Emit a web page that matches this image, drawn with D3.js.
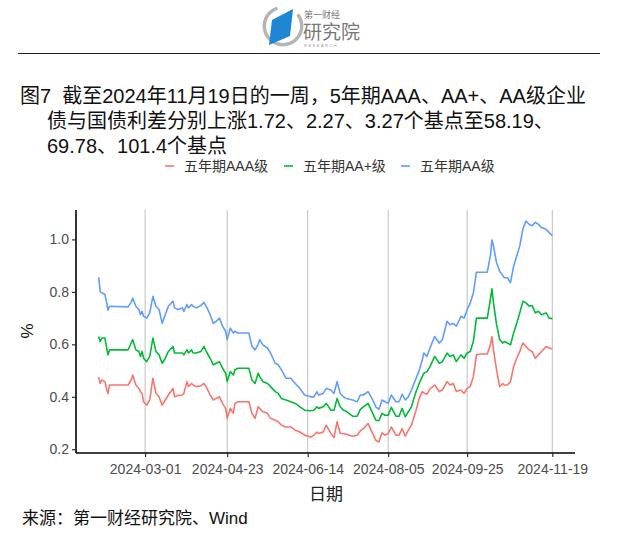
<!DOCTYPE html>
<html>
<head>
<meta charset="utf-8">
<script src="https://cdn.jsdelivr.net/npm/d3@7"></script>
<style>
  body { margin: 0; background: #fff; }
  svg { display: block; font-family: "Liberation Sans", Arial, "Noto Sans CJK SC", sans-serif; }
</style>
</head>
<body>
<div id="chart"></div>
<script>
// trading days (roughly every 2-3 days)
const dates = [
  "2024-01-31","2024-02-01","2024-02-02","2024-02-04","2024-02-05","2024-02-06","2024-02-07","2024-02-19",
  "2024-02-21","2024-02-22","2024-02-24","2024-02-26","2024-02-27","2024-02-28","2024-02-29","2024-03-02",
  "2024-03-04","2024-03-06","2024-03-08","2024-03-10","2024-03-12","2024-03-14","2024-03-16","2024-03-19",
  "2024-03-20","2024-03-22","2024-03-25","2024-03-26","2024-03-28","2024-03-29","2024-03-31","2024-04-01",
  "2024-04-03","2024-04-06","2024-04-08","2024-04-10","2024-04-12","2024-04-14","2024-04-16","2024-04-18",
  "2024-04-20","2024-04-22","2024-04-23","2024-04-25","2024-04-27","2024-04-28","2024-04-30","2024-05-04",
  "2024-05-07","2024-05-09","2024-05-11","2024-05-13","2024-05-14","2024-05-16","2024-05-19","2024-05-21",
  "2024-05-24","2024-05-26","2024-05-28","2024-05-31","2024-06-03","2024-06-06","2024-06-09","2024-06-12",
  "2024-06-16","2024-06-18","2024-06-20","2024-06-21","2024-06-24","2024-06-26","2024-06-29","2024-07-01",
  "2024-07-03","2024-07-05","2024-07-07","2024-07-09","2024-07-13","2024-07-16","2024-07-18","2024-07-20",
  "2024-07-23","2024-07-26","2024-07-28","2024-07-30","2024-08-01","2024-08-03","2024-08-05","2024-08-07",
  "2024-08-10","2024-08-12","2024-08-14","2024-08-16","2024-08-18","2024-08-20","2024-08-23","2024-08-25",
  "2024-08-27","2024-08-28","2024-08-30","2024-09-01","2024-09-04","2024-09-07","2024-09-09","2024-09-12",
  "2024-09-14","2024-09-16","2024-09-18","2024-09-21","2024-09-23","2024-09-25","2024-09-27","2024-09-29",
  "2024-10-01","2024-10-04","2024-10-08","2024-10-10","2024-10-11","2024-10-12","2024-10-14","2024-10-16",
  "2024-10-18","2024-10-19","2024-10-21","2024-10-23","2024-10-25","2024-10-27","2024-10-29","2024-10-31",
  "2024-11-02","2024-11-04","2024-11-06","2024-11-08","2024-11-10","2024-11-12","2024-11-15","2024-11-17",
  "2024-11-19"
];

const aaa = [
  .475,.451,.464,.458,.432,.413,.445,.445, .464,.483,.445,.432,.42,.413,.381,.368,
  .388,.471,.413,.40,.368,.388,.407,.432, .40,.405,.407,.413,.458,.439,.451,.445,
  .439,.442,.451,.432,.407,.388,.394,.40, .375,.356,.318,.356,.337,.375,.381,.381,
  .381,.337,.318,.362,.356,.343,.337,.318, .311,.305,.292,.285,.285,.273,.266,.254,
  .247,.254,.266,.26,.266,.292,.26,.245, .305,.26,.26,.257,.25,.254,.27,.279,
  .298,.26,.234,.228,.263,.254,.26,.285, .254,.254,.279,.25,.273,.292,.349,.394,
  .42,.415,.41,.43,.445,.42,.426,.458, .445,.451,.42,.426,.413,.432,.439,.477,
  .56,.563,.563,.598,.63,.579,.503,.439, .451,.445,.445,.458,.515,.547,.573,.605,
  .592,.579,.573,.547,.56,.573,.592,.586, .582
];

const aaPlus = [
  .63,.611,.624,.624,.592,.56,.579,.579, .605,.618,.579,.573,.554,.573,.547,.534,
  .554,.624,.573,.56,.528,.547,.573,.592, .567,.567,.567,.56,.579,.567,.579,.567,
  .567,.573,.592,.567,.547,.522,.528,.534, .509,.49,.458,.496,.483,.503,.509,.509,
  .509,.464,.451,.49,.477,.458,.451,.439, .42,.413,.394,.388,.381,.375,.362,.349,
  .347,.349,.362,.356,.362,.375,.349,.349, .394,.362,.349,.345,.326,.326,.352,.362,
  .375,.337,.311,.309,.337,.33,.33,.36, .326,.326,.356,.324,.343,.362,.42,.451,
  .477,.49,.496,.515,.554,.528,.534,.567, .554,.56,.534,.56,.547,.567,.573,.611,
  .70,.70,.70,.771,.812,.758,.675,.618, .605,.611,.605,.598,.643,.68,.72,.764,
  .758,.745,.748,.72,.726,.713,.72,.70, .698
];

const aa = [
  .855,.80,.797,.79,.764,.73,.745,.743, .76,.777,.745,.733,.713,.726,.707,.70,
  .72,.783,.745,.733,.68,.713,.745,.764, .739,.733,.739,.726,.752,.739,.752,.745,
  .739,.748,.76,.739,.713,.68,.688,.70, .669,.65,.618,.662,.643,.65,.643,.643,
  .643,.592,.579,.60,.618,.598,.586,.567, .528,.522,.503,.471,.471,.451,.432,.407,
  .40,.40,.42,.407,.413,.432,.426,.413, .458,.413,.40,.394,.388,.381,.407,.407,
  .42,.388,.362,.352,.388,.381,.375,.407, .381,.381,.41,.388,.40,.426,.471,.50,
  .54,.567,.554,.586,.63,.605,.618,.688, .675,.68,.669,.707,.70,.733,.758,.796,
  .875,.875,.875,.937,.998,.975,.911,.879, .863,.854,.854,.835,.898,.937,.975,1.04,
  1.07,1.058,1.052,1.065,1.058,1.045,1.039,1.026, 1.014
];

const seriesNames = ["五年期AAA级", "五年期AA+级", "五年期AA级"];
const seriesColors = ["#F8766D", "#00BA38", "#619CFF"];
const xTicks = ["2024-03-01", "2024-04-23", "2024-06-14", "2024-08-05", "2024-09-25", "2024-11-19"];
const yTicks = [0.2, 0.4, 0.6, 0.8, 1.0];

const titleLines = [
  "图7  截至2024年11月19日的一周，5年期AAA、AA+、AA级企业",
  "债与国债利差分别上涨1.72、2.27、3.27个基点至58.19、",
  "69.78、101.4个基点"
];

const W = 640, H = 540;
const plot = {left: 76, right: 575, top: 210, bottom: 453};
const parse = d3.timeParse("%Y-%m-%d");

const svg = d3.select("#chart").append("svg")
  .attr("width", W).attr("height", H);

svg.append("rect").attr("width", W).attr("height", H).attr("fill", "#fff");

// ---- logo / header
const logo = svg.append("g").attr("transform", "translate(283,26)");
logo.append("path")
  .attr("d", d3.arc()({innerRadius: 17, outerRadius: 20.5, startAngle: 0.9, endAngle: 2 * Math.PI - 0.3}))
  .attr("fill", "#b5b5b5");
logo.append("path")
  .attr("d", "M-11,-6 L10,-17 L7,10 L-14,19 Z")
  .attr("fill", "#1f86d4");
svg.append("text").attr("x", 304).attr("y", 18)
  .style("font-size", "9px").style("fill", "#777").text("第一财经");
svg.append("text").attr("x", 303).attr("y", 39)
  .style("font-size", "19px").style("fill", "#777").text("研究院");
svg.append("text").attr("x", 304).attr("y", 47)
  .style("font-size", "4px").style("fill", "#999").style("letter-spacing", "1.5px").text("RESEARCH");
svg.append("line")
  .attr("x1", 18).attr("x2", 600).attr("y1", 53.5).attr("y2", 53.5)
  .attr("stroke", "#222").attr("stroke-width", 1.2);

// ---- title
svg.append("g").selectAll("text")
  .data(titleLines).enter().append("text")
  .attr("x", (d, i) => i === 0 ? 20 : 47)
  .attr("y", (d, i) => 103 + i * 25)
  .style("font-size", "20px")
  .style("white-space", "pre")
  .style("fill", "#111")
  .text(d => d);

// ---- scales
const allDates = dates.map(parse);
const allVals = aaa.concat(aaPlus, aa);
const [d0, d1] = d3.extent(allDates);
const dPad = (d1 - d0) * 0.05;
const [v0, v1] = d3.extent(allVals);
const vPad = (v1 - v0) * 0.05;

const x = d3.scaleTime()
  .domain([new Date(+d0 - dPad), new Date(+d1 + dPad)])
  .range([plot.left, plot.right]);
const y = d3.scaleLinear()
  .domain([v0 - vPad, v1 + vPad])
  .range([plot.bottom, plot.top]);

// vertical grid
svg.append("g").selectAll("line")
  .data(xTicks.map(parse)).enter().append("line")
  .attr("x1", d => x(d)).attr("x2", d => x(d))
  .attr("y1", plot.top).attr("y2", plot.bottom)
  .attr("stroke", "#c4c4c4").attr("stroke-width", 1.1);

// lines
const series = [aaa, aaPlus, aa];
const line = d3.line()
  .x((d, i) => x(allDates[i]))
  .y(d => y(d));

svg.append("g").selectAll("path")
  .data(series).enter().append("path")
  .attr("d", d => line(d))
  .attr("fill", "none")
  .attr("stroke", (d, i) => seriesColors[i])
  .attr("stroke-width", 1.6)
  .attr("stroke-linejoin", "round");

// axes
const xAxis = svg.append("g")
  .attr("transform", "translate(0," + plot.bottom + ")")
  .call(d3.axisBottom(x).tickValues(xTicks.map(parse)).tickFormat(d3.timeFormat("%Y-%m-%d")).tickSize(4).tickPadding(7));
const yAxis = svg.append("g")
  .attr("transform", "translate(" + plot.left + ",0)")
  .call(d3.axisLeft(y).tickValues(yTicks).tickFormat(d3.format(".1f")).tickSize(4).tickPadding(3));

[xAxis, yAxis].forEach(a => {
  a.select(".domain").attr("stroke", "#000").attr("stroke-width", 1.6);
  a.selectAll(".tick line").attr("stroke", "#222").attr("stroke-width", 1.1);
  a.selectAll(".tick text")
    .style("font-size", "14px")
    .style("fill", "#4d4d4d")
    .style("font-family", "'Liberation Sans', Arial, sans-serif");
});
xAxis.select(".domain").attr("d", "M" + plot.left + ",0H" + plot.right);
yAxis.select(".domain").attr("d", "M0," + plot.top + "V" + plot.bottom);

// axis titles
svg.append("text")
  .attr("x", 326).attr("y", 500)
  .attr("text-anchor", "middle")
  .style("font-size", "17px").style("fill", "#222")
  .text("日期");
svg.append("text")
  .attr("transform", "translate(33,331) rotate(-90)")
  .attr("text-anchor", "middle")
  .style("font-size", "17px").style("fill", "#111")
  .text("%");

// legend
const legendX = [165, 284, 401];
const legend = svg.append("g").selectAll("g")
  .data(seriesNames).enter().append("g")
  .attr("transform", (d, i) => "translate(" + legendX[i] + ",166)");
legend.append("line")
  .attr("x1", 0).attr("x2", 9).attr("y1", 0).attr("y2", 0)
  .attr("stroke", (d, i) => seriesColors[i]).attr("stroke-width", 1.6);
legend.append("text")
  .attr("x", 19).attr("y", 5)
  .style("font-size", "14px").style("fill", "#333")
  .text(d => d);

// source
svg.append("text")
  .attr("x", 22).attr("y", 524)
  .style("font-size", "17px").style("fill", "#111")
  .text("来源：第一财经研究院、Wind");
</script>
</body>
</html>
